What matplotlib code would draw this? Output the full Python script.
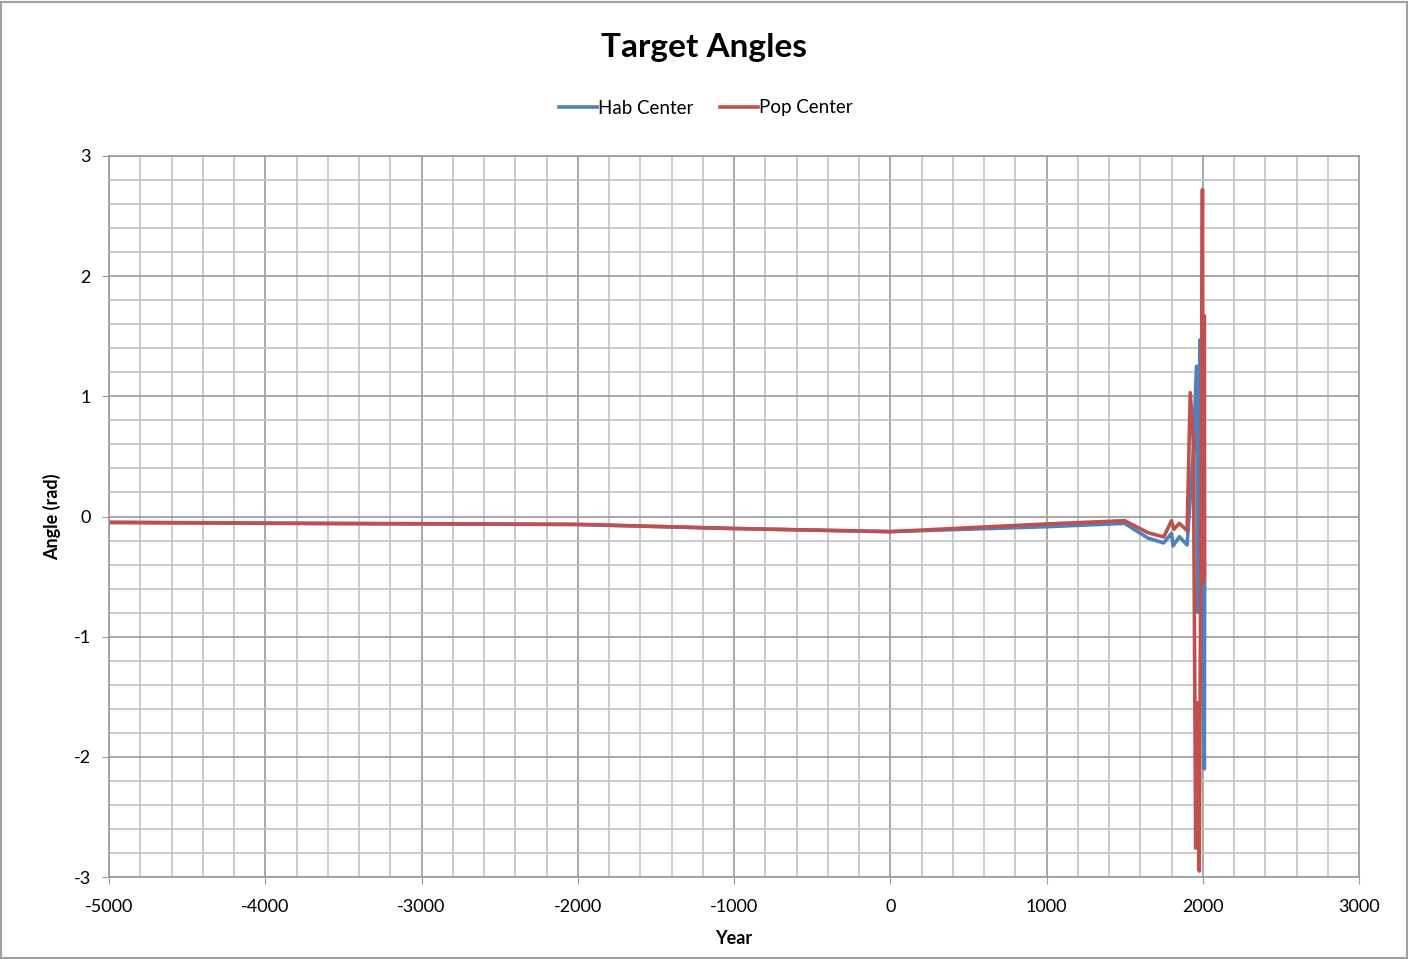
import numpy as np
import matplotlib.pyplot as plt
from matplotlib.ticker import MultipleLocator
from matplotlib.patches import Rectangle

plt.rcParams['font.family'] = ['Lato', 'DejaVu Sans']
plt.rcParams['axes.unicode_minus'] = False

# Hab Center (blue)
hab_years = [-5000, -4000, -3000, -2000, -1000, 0, 1000, 1500, 1650, 1750, 1800, 1810,
             1850, 1900, 1940, 1960, 1965, 1970, 1982, 1995, 2005, 2010, 2012]
hab_angle = [-0.05, -0.057, -0.062, -0.067, -0.10, -0.126, -0.085, -0.057, -0.18, -0.22,
             -0.14, -0.245, -0.168, -0.237, 0.55, 1.25, 0.14, -0.8, 1.47, -0.2, -1.43,
             -2.1, -0.5]

# Pop Center (red)
pop_years = [-5000, -4000, -3000, -2000, -1000, 0, 1000, 1500, 1650, 1750, 1800, 1815,
             1850, 1900, 1920, 1940, 1955, 1965, 1978, 1998, 2004, 2010, 2012]
pop_angle = [-0.048, -0.055, -0.06, -0.065, -0.10, -0.126, -0.062, -0.035, -0.135, -0.17,
             -0.035, -0.107, -0.057, -0.118, 1.03, 0.62, -2.76, -1.55, -2.95, 2.72, -0.55,
             1.67, -0.48]

fig = plt.figure(figsize=(14.08, 9.59), dpi=100)
ax = fig.add_axes([109/1408, 1-877/959, 1250/1408, 721/959])

ax.plot(hab_years, hab_angle, color='#4F81BD', lw=2.6, label='Hab Center')
ax.plot(pop_years, pop_angle, color='#C0504D', lw=2.6, label='Pop Center')

ax.set_xlim(-5000, 3000)
ax.set_ylim(-3, 3)
ax.xaxis.set_major_locator(MultipleLocator(1000))
ax.xaxis.set_minor_locator(MultipleLocator(200))
ax.yaxis.set_major_locator(MultipleLocator(1))
ax.yaxis.set_minor_locator(MultipleLocator(0.2))
ax.grid(which='minor', color='#c4c4c4', lw=1.2)
ax.grid(which='major', color='#9a9a9a', lw=1.2)
ax.set_axisbelow(True)
for s in ax.spines.values():
    s.set_color('#9a9a9a')
    s.set_linewidth(1.2)
ax.tick_params(which='major', length=5, color='#9a9a9a', labelsize=13)
ax.tick_params(axis='x', pad=11)
ax.tick_params(axis='y', pad=8)
ax.tick_params(which='minor', length=0)

ax.set_xlabel('Year', fontsize=13, fontweight='bold', labelpad=11)
ax.set_ylabel('Angle (rad)', fontsize=13, fontweight='bold', labelpad=9)
fig.text(0.5, 1-48/959, 'Target Angles', ha='center', va='center', fontsize=24, fontweight='bold')
fig.legend(loc='center', bbox_to_anchor=(706/1408, 1-108/959), ncol=2, frameon=False,
           fontsize=13.5, handlelength=2.0, handletextpad=0.1, columnspacing=1.4)

fig.patches.append(Rectangle((0.001, 0.001), 0.998, 0.997, transform=fig.transFigure,
                             fill=False, edgecolor='#a0a0a0', lw=1.5))

fig.savefig('out.png', dpi=100)
plt.close()
